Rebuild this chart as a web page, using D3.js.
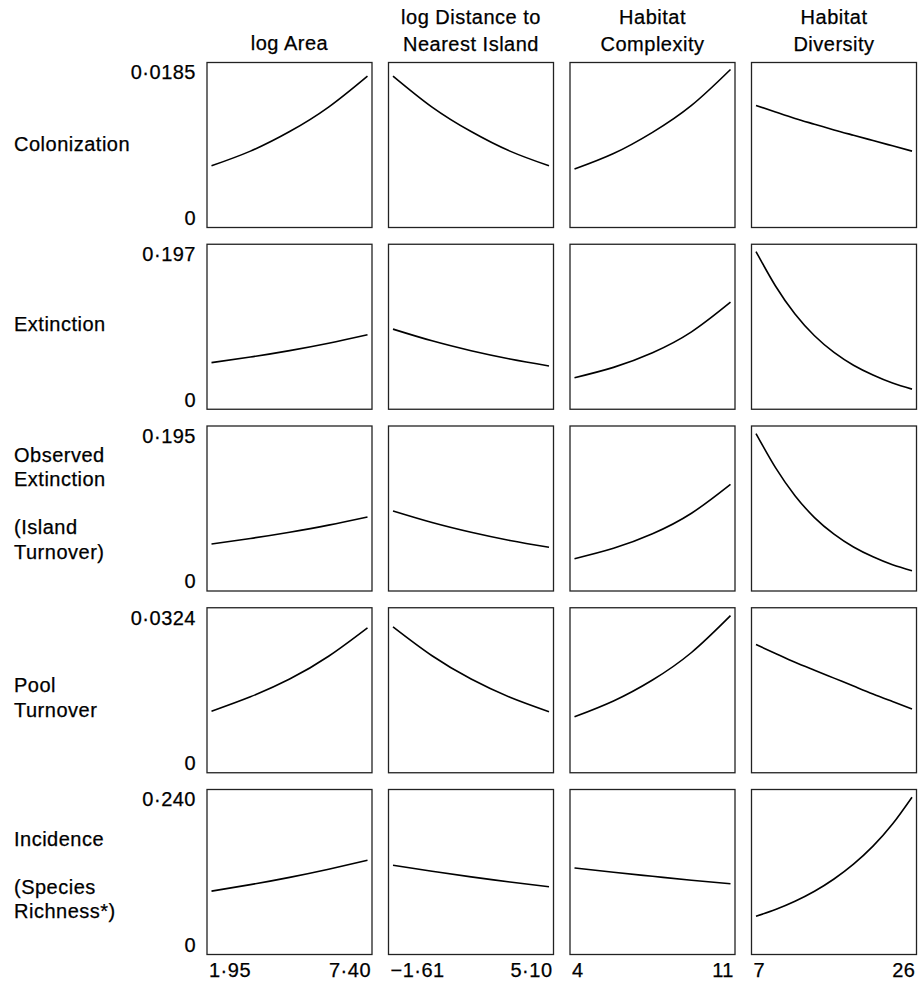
<!DOCTYPE html>
<html>
<head>
<meta charset="utf-8">
<script src="https://cdn.jsdelivr.net/npm/d3@7"></script>
<style>
  html, body { margin: 0; padding: 0; background: #fff; }
  svg text { font-family: "Liberation Sans", Arial, Helvetica, sans-serif; font-size: 20px; letter-spacing: 0.5px; fill: #000; stroke: #000; stroke-width: 0.25px; }
</style>
</head>
<body>
<svg id="chart" width="920" height="984"></svg>
<script>
// ---- data ----
const columnTitles = [["log Area"], ["log Distance to", "Nearest Island"], ["Habitat", "Complexity"], ["Habitat", "Diversity"]];
const rowLabels = [["Colonization"], ["Extinction"], ["Observed", "Extinction", "", "(Island", "Turnover)"], ["Pool", "Turnover"], ["Incidence", "", "(Species", "Richness*)"]];
const yMax = [0.0185, 0.197, 0.195, 0.0324, 0.240];
const yMaxLabels = ["0·0185", "0·197", "0·195", "0·0324", "0·240"];
const yMinLabel = "0";
const xDomains = [[1.95, 7.40], [-1.61, 5.10], [4, 11], [7, 26]];
const xTickLabels = [["1·95", "7·40"], ["−1·61", "5·10"], ["4", "11"], ["7", "26"]];

const xArea = [1.95, 3.31, 4.68, 6.04, 7.40];
const xDistance = [-1.61, 0.07, 1.75, 3.42, 5.10];
const xComplexity = [4, 5.75, 7.5, 9.25, 11];
const xDiversity = [7, 9.375, 11.75, 14.125, 16.5, 18.875, 21.25, 23.625, 26];
const xSamples = [xArea, xDistance, xComplexity, xDiversity];

const colonization = [
  [0.0067, 0.0085, 0.0109, 0.0139, 0.0177],
  [0.0177, 0.0139, 0.0109, 0.0085, 0.0067],
  [0.0063, 0.0082, 0.0108, 0.0141, 0.0185],
  [0.0141, 0.0133, 0.0125, 0.0118, 0.0111, 0.01045, 0.0098, 0.00915, 0.0085]
];
const extinction = [
  [0.0517, 0.0590, 0.0674, 0.0770, 0.0880],
  [0.0954, 0.0801, 0.0672, 0.0564, 0.0473],
  [0.0320, 0.0455, 0.0646, 0.0918, 0.1305],
  [0.1966, 0.1517, 0.1152, 0.0867, 0.0650, 0.0483, 0.0355, 0.0250, 0.0171]
];
const observedExtinction = [
  [0.0517, 0.0588, 0.0669, 0.0760, 0.0865],
  [0.0943, 0.0794, 0.0668, 0.0562, 0.0474],
  [0.0327, 0.0461, 0.0649, 0.0914, 0.1287],
  [0.1942, 0.1502, 0.1141, 0.0858, 0.0644, 0.0478, 0.0351, 0.0248, 0.0172]
];
const poolTurnover = [
  [0.0117, 0.0148, 0.0186, 0.0235, 0.0296],
  [0.0298, 0.0236, 0.0186, 0.0147, 0.0116],
  [0.0105, 0.0139, 0.0184, 0.0243, 0.0322],
  [0.0260, 0.0241, 0.0222, 0.0205, 0.0188, 0.0171, 0.0154, 0.0138, 0.0122]
];
const incidence = [
  [0.0896, 0.0999, 0.1115, 0.1244, 0.1387],
  [0.1307, 0.1213, 0.1123, 0.1041, 0.0965],
  [0.1264, 0.1195, 0.1132, 0.1070, 0.1013],
  [0.0496, 0.0604, 0.0735, 0.0894, 0.1089, 0.1325, 0.1612, 0.1962, 0.2389]
];
const rowSeries = [colonization, extinction, observedExtinction, poolTurnover, incidence];

// ---- layout ----
const panelLeft0 = 207, panelTop0 = 62.5, pitchX = 181.5, pitchY = 181.75, size = 165;
const padX = 4.5, padY = 7;
const labelFirstBaseline = [88.7, 86.8, 35.5, 84.5, 56];
const lineGap = 24.3;

const svg = d3.select("#chart");

// column titles
columnTitles.forEach((lines, c) => {
  const cx = panelLeft0 + c * pitchX + size / 2;
  lines.forEach((t, i) => {
    const base = lines.length === 1 ? 50 : 23.5 + i * 27;
    svg.append("text").attr("x", cx).attr("y", base).attr("text-anchor", "middle").text(t);
  });
});

rowSeries.forEach((series, r) => {
  const top = panelTop0 + r * pitchY;
  const bottom = top + size;
  const y = d3.scaleLinear().domain([0, yMax[r]]).range([bottom - padY, top + padY]);

  // row label
  rowLabels[r].forEach((t, i) => {
    if (!t) return;
    svg.append("text").attr("x", 14).attr("y", top + labelFirstBaseline[r] + i * lineGap).text(t);
  });

  // y labels
  svg.append("text").attr("x", panelLeft0 - 11).attr("y", top + 16.8).attr("text-anchor", "end").text(yMaxLabels[r]);
  svg.append("text").attr("x", panelLeft0 - 11).attr("y", bottom - 2.6).attr("text-anchor", "end").text(yMinLabel);

  series.forEach((vals, c) => {
    const left = panelLeft0 + c * pitchX;
    const x = d3.scaleLinear().domain(xDomains[c]).range([left + padX, left + size - padX]);
    const g = svg.append("g");
    g.append("rect").attr("x", left).attr("y", top).attr("width", size).attr("height", size)
      .attr("fill", "none").attr("stroke", "#222").attr("stroke-width", 1.3);
    const pts = xSamples[c].map((xv, i) => [xv, vals[i]]);
    const line = d3.line().x(d => x(d[0])).y(d => y(d[1])).curve(d3.curveNatural);
    g.append("path").attr("d", line(pts)).attr("fill", "none").attr("stroke", "#000").attr("stroke-width", 1.6);

    if (r === rowSeries.length - 1) {
      svg.append("text").attr("x", left + 2).attr("y", bottom + 22).attr("text-anchor", "start").text(xTickLabels[c][0]);
      svg.append("text").attr("x", left + size - 1).attr("y", bottom + 22).attr("text-anchor", "end").text(xTickLabels[c][1]);
    }
  });
});
</script>
</body>
</html>
